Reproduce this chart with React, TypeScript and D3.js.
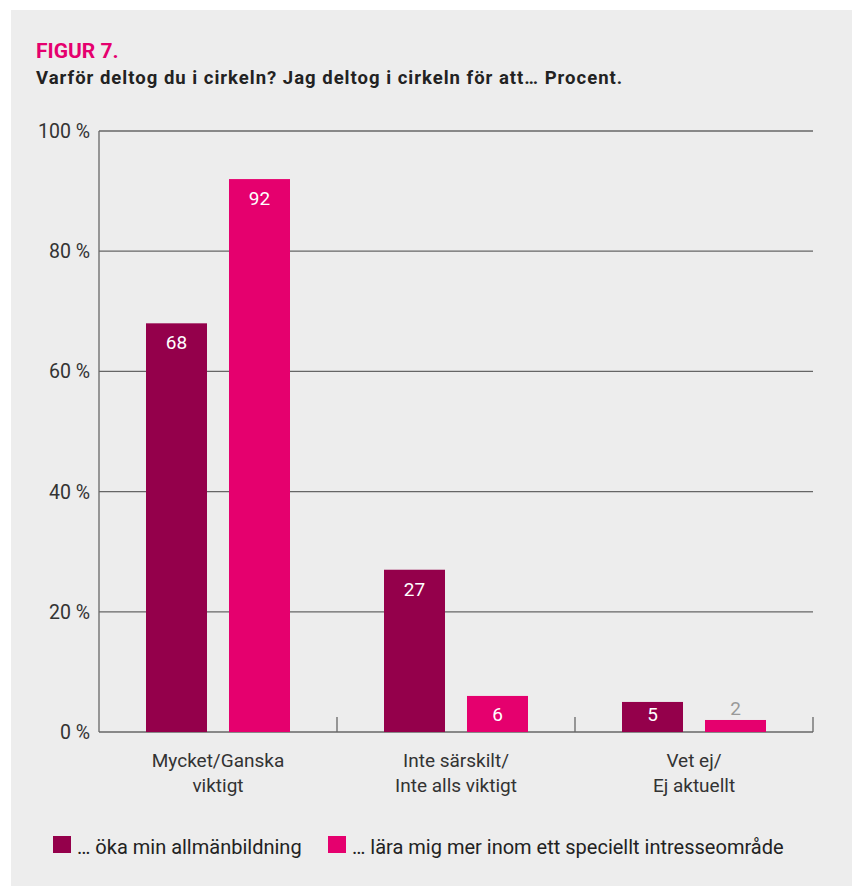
import * as d3 from 'd3'
import { useEffect, useRef } from 'react'

const categories = ['Mycket/Ganska|viktigt', 'Inte särskilt/|Inte alls viktigt', 'Vet ej/|Ej aktuellt']
const seriesNames = ['… öka min allmänbildning', '… lära mig mer inom ett speciellt intresseområde']
const seriesA = [68, 27, 5]
const seriesB = [92, 6, 2]
const yTicks = [0, 20, 40, 60, 80, 100]
const colors = ['#94004b', '#e5006e']

const W = 852
const H = 886
const left = 99
const right = 813
const top = 131
const bottom = 732
const font = 'Roboto, "Open Sans", sans-serif'

export default function App() {
  const ref = useRef<SVGSVGElement>(null)

  useEffect(() => {
    const svg = d3.select(ref.current)
    svg.selectAll('*').remove()

    svg.append('rect').attr('x', 11).attr('y', 10).attr('width', W - 11).attr('height', H - 10).attr('fill', '#ededed')

    svg.append('text').attr('x', 36).attr('y', 58).attr('fill', '#e5006e')
      .attr('font-family', font).attr('font-weight', 700).attr('font-size', 21)
      .text('FIGUR 7.')
    svg.append('text').attr('x', 36).attr('y', 84).attr('fill', '#222')
      .attr('font-family', font).attr('font-weight', 700).attr('font-size', 18.5)
      .attr('letter-spacing', 1)
      .text('Varför deltog du i cirkeln? Jag deltog i cirkeln för att… Procent.')

    const x0 = d3.scaleBand().domain(categories).range([left, right]).padding(0)
    const x1 = d3.scaleBand().domain(['a', 'b']).range([47, 191]).paddingInner(0.265).paddingOuter(0)
    const y = d3.scaleLinear().domain([0, 100]).range([bottom, top])

    const g = svg.append('g')

    // grid lines
    g.selectAll('line.grid').data(yTicks).join('line')
      .attr('x1', left).attr('x2', right)
      .attr('y1', (d) => y(d)).attr('y2', (d) => y(d))
      .attr('stroke', '#666').attr('stroke-width', 1.3)

    // y axis line
    g.append('line').attr('x1', left).attr('x2', left).attr('y1', y(100)).attr('y2', y(0))
      .attr('stroke', '#666').attr('stroke-width', 1.3)

    // band boundary ticks
    g.selectAll('line.sep').data(categories).join('line')
      .attr('x1', (d) => (x0(d) as number) + x0.bandwidth())
      .attr('x2', (d) => (x0(d) as number) + x0.bandwidth())
      .attr('y1', y(0) - 15).attr('y2', y(0))
      .attr('stroke', '#666').attr('stroke-width', 1.3)

    // y labels
    g.selectAll('text.yl').data(yTicks).join('text')
      .attr('x', 90).attr('y', (d) => y(d) + 7)
      .attr('text-anchor', 'end').attr('fill', '#333')
      .attr('font-family', font).attr('font-size', 19.5)
      .text((d) => `${d} %`)

    const rows = categories.map((c, i) => ({ c, vals: [seriesA[i], seriesB[i]] }))
    const grp = g.selectAll('g.cat').data(rows).join('g')
      .attr('transform', (d) => `translate(${x0(d.c)},0)`)

    grp.selectAll('rect').data((d) => d.vals.map((v, k) => ({ v, k }))).join('rect')
      .attr('x', (d) => x1(d.k === 0 ? 'a' : 'b') as number)
      .attr('width', x1.bandwidth())
      .attr('y', (d) => y(d.v))
      .attr('height', (d) => y(0) - y(d.v))
      .attr('fill', (d) => colors[d.k])

    grp.selectAll('text.val').data((d) => d.vals.map((v, k) => ({ v, k }))).join('text')
      .attr('x', (d) => (x1(d.k === 0 ? 'a' : 'b') as number) + x1.bandwidth() / 2)
      .attr('y', (d) => (d.v < 4 ? y(d.v) - 5 : Math.min(y(d.v) + 26, y(0) - 11)))
      .attr('text-anchor', 'middle')
      .attr('fill', (d) => (d.v < 4 ? '#999' : '#fff'))
      .attr('font-family', font).attr('font-size', 19)
      .text((d) => d.v)

    // category labels
    grp.each(function (d) {
      const lines = d.c.split('|')
      const t = d3.select(this).append('text')
        .attr('text-anchor', 'middle').attr('fill', '#333')
        .attr('font-family', font).attr('font-size', 19)
      lines.forEach((ln, i) => {
        t.append('tspan').attr('x', x0.bandwidth() / 2).attr('y', 767 + i * 25).text(ln)
      })
    })

    // legend
    const legX = [53, 328]
    seriesNames.forEach((name, i) => {
      svg.append('rect').attr('x', legX[i]).attr('y', 836).attr('width', 18).attr('height', 17).attr('fill', colors[i])
      svg.append('text').attr('x', legX[i] + 24).attr('y', 854).attr('fill', '#222')
        .attr('font-family', font).attr('font-size', 20).text(name)
    })
  }, [])

  return (
    <svg ref={ref} width={W} height={H} style={{ display: 'block', position: 'absolute', left: 0, top: 0, background: '#fff' }} />
  )
}
